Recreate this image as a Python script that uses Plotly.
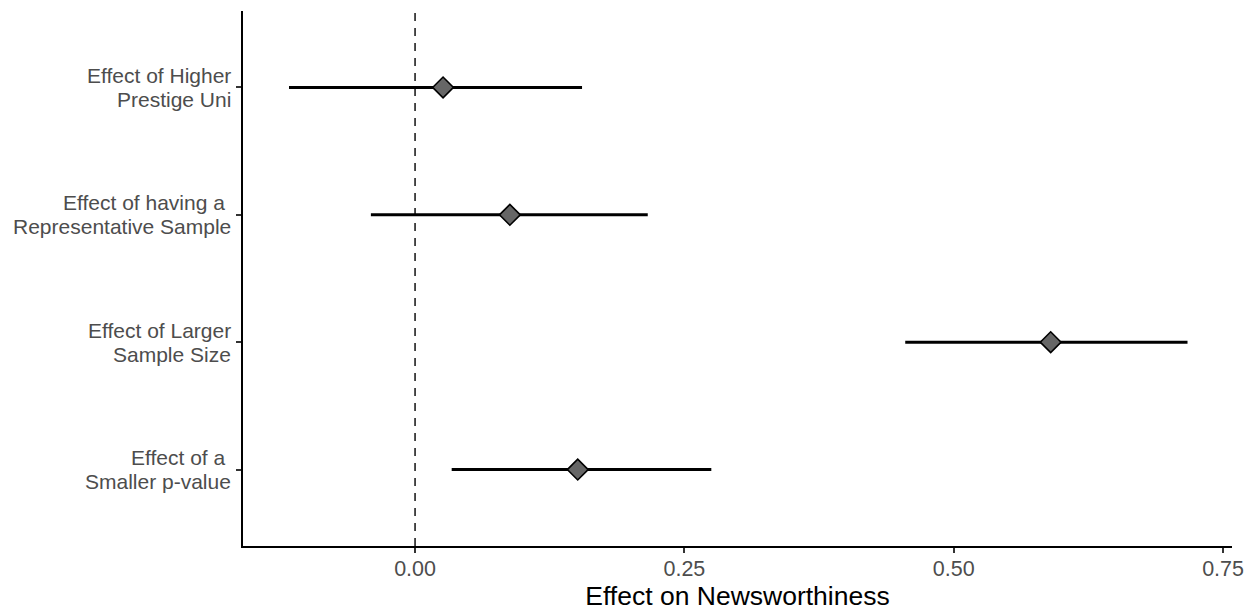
import plotly.graph_objects as go

labels = ["Effect of Higher<br>Prestige Uni",
          "Effect of having a <br>Representative Sample",
          "Effect of Larger<br>Sample Size",
          "Effect of a <br>Smaller p-value"]
estimates = [0.026, 0.088, 0.590, 0.151]
ci_low = [-0.117, -0.041, 0.455, 0.034]
ci_high = [0.155, 0.216, 0.717, 0.275]
ypos = [4, 3, 2, 1]
xticks = [0.0, 0.25, 0.5, 0.75]
xticklabels = ["0.00", "0.25", "0.50", "0.75"]

fig = go.Figure()

for yl, lo, hi in zip(ypos, ci_low, ci_high):
    fig.add_trace(go.Scatter(x=[lo, hi], y=[yl, yl], mode="lines",
                             line=dict(color="black", width=3),
                             showlegend=False, hoverinfo="skip"))

fig.add_trace(go.Scatter(x=estimates, y=ypos, mode="markers",
                         marker=dict(symbol="diamond", size=16, color="#666666",
                                     line=dict(color="black", width=1.6)),
                         showlegend=False))

fig.add_shape(type="line", x0=0, x1=0, y0=0, y1=1, xref="x", yref="paper",
              line=dict(color="black", width=1.4, dash="8px,7px"), layer="below")

# y-axis category labels, two lines each, right-aligned
for yl, lab in zip(ypos, labels):
    lines = lab.split("<br>")
    for i, ln in enumerate(lines):
        fig.add_annotation(x=0, xref="paper", y=yl, yref="y", text=ln,
                           showarrow=False, xanchor="right", yanchor="middle",
                           xshift=-10, yshift=12 - 24 * i,
                           font=dict(size=21, color="#4d4d4d"))

fig.update_layout(
    width=1255, height=614,
    margin=dict(l=243, r=23, t=11, b=65),
    plot_bgcolor="white", paper_bgcolor="white",
    font=dict(family="Liberation Sans, Arial, sans-serif"),
    xaxis=dict(range=[-0.1597, 0.7583], tickvals=xticks, ticktext=xticklabels,
               showgrid=False, zeroline=False, showline=True, linecolor="black",
               linewidth=2, ticks="outside", ticklen=5, tickwidth=1.5, tickcolor="#333333",
               tickfont=dict(size=21.5, color="#4d4d4d"), ticklabelstandoff=-3,
               title=dict(text="Effect on Newsworthiness", font=dict(size=26.5, color="black"),
                          standoff=4)),
    yaxis=dict(range=[0.4, 4.6], tickvals=ypos, ticktext=["" for _ in labels],
               showgrid=False, zeroline=False, showline=True, linecolor="black",
               linewidth=2, ticks="outside", ticklen=5, tickwidth=1.5, tickcolor="#333333",
               tickfont=dict(size=21, color="#4d4d4d")),
)

fig.write_html("out.html", config={"displayModeBar": False},
               post_script="document.body.style.margin='0';")
